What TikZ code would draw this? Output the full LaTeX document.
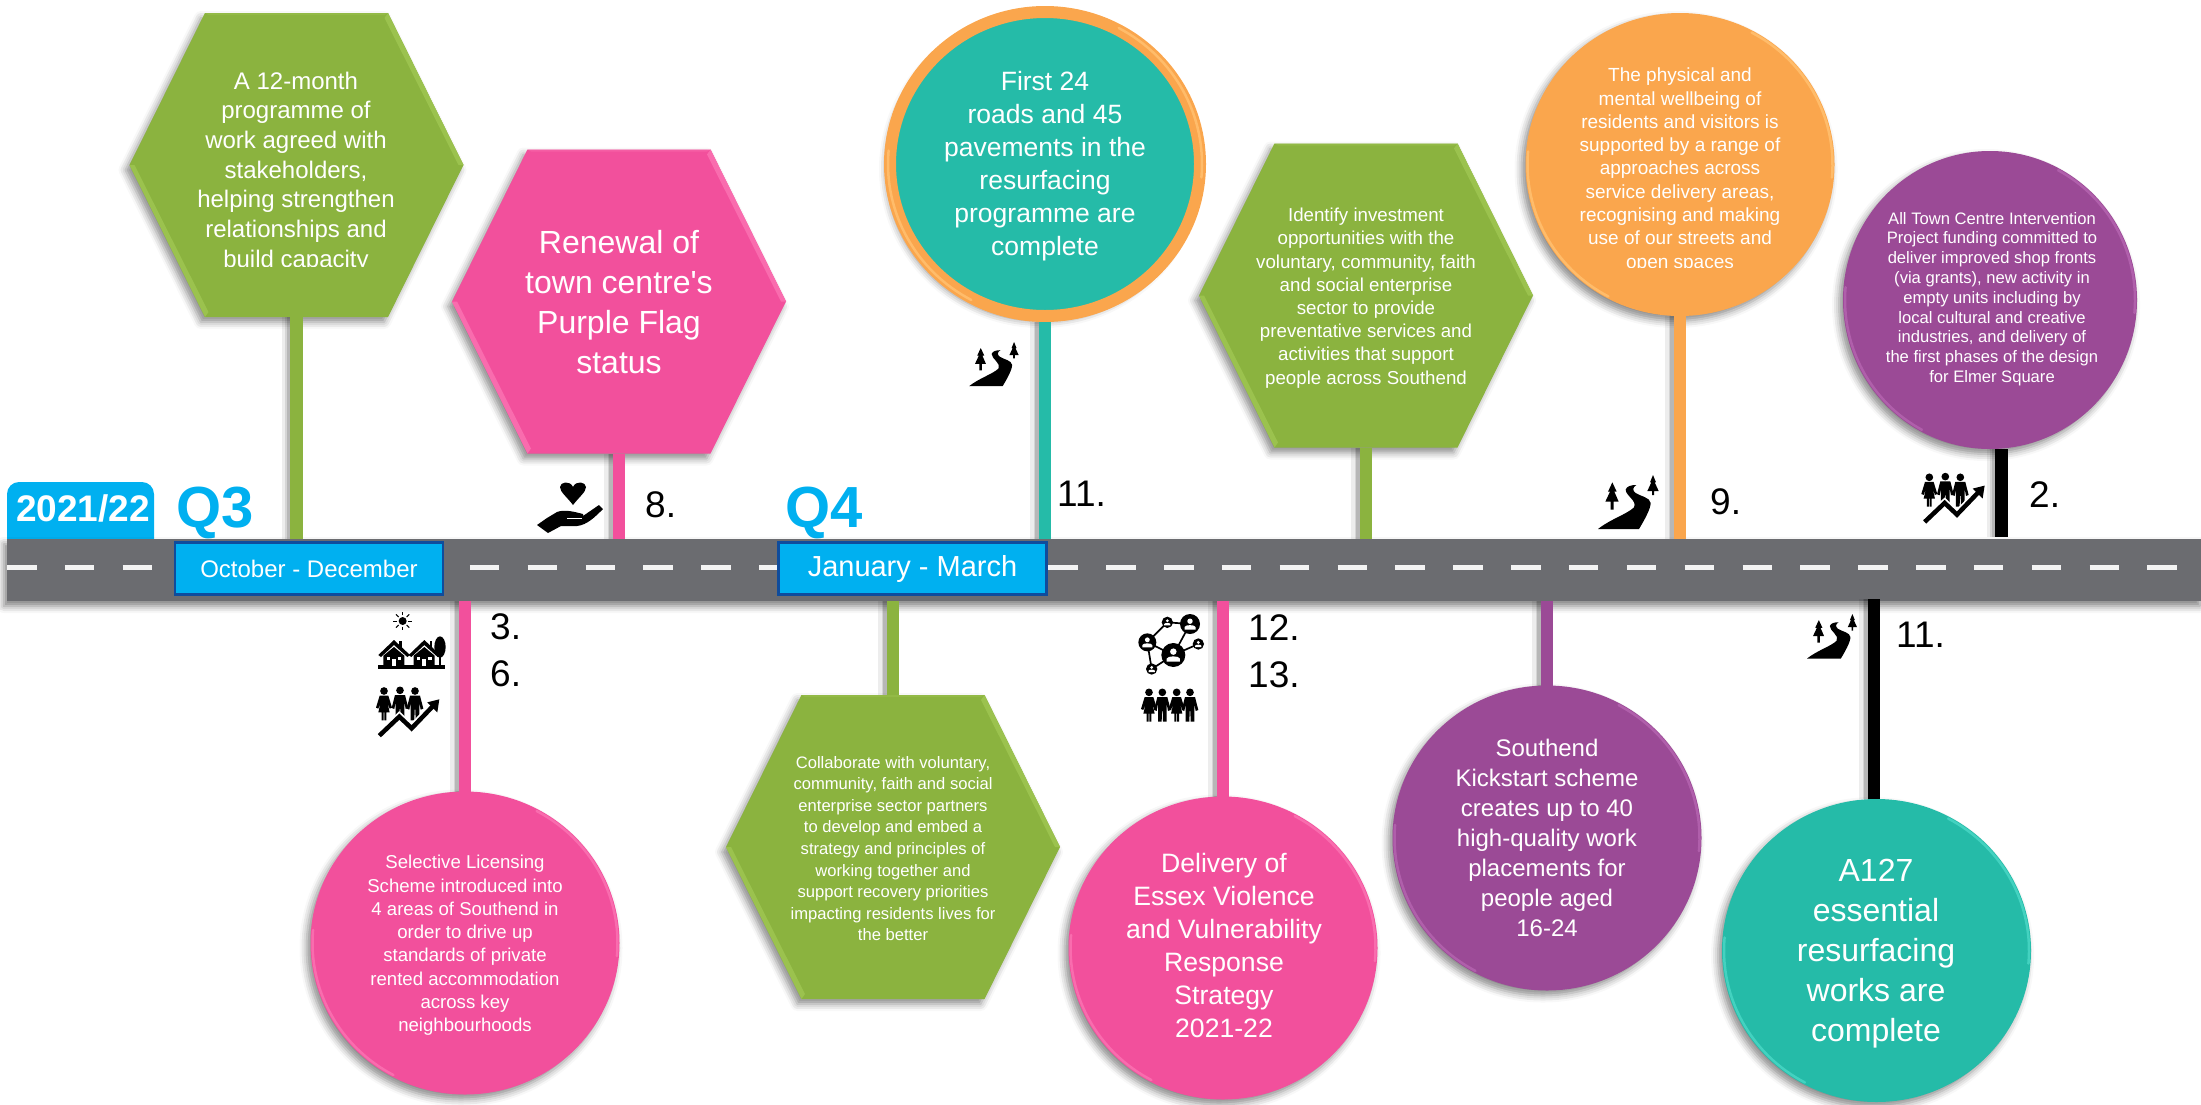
\documentclass[tikz,border=0pt]{standalone}
\usepackage{fontspec}
\setmainfont{Liberation Sans}
\usetikzlibrary{shapes.geometric,shapes.symbols,shadows.blur,calc}
\definecolor{cgreen}{HTML}{8BB33F}
\definecolor{cgreenl}{HTML}{9BC24E}
\definecolor{cpink}{HTML}{F2509C}
\definecolor{cpinkl}{HTML}{F96CAE}
\definecolor{cteal}{HTML}{25BBA8}
\definecolor{cteall}{HTML}{43D2C0}
\definecolor{corange}{HTML}{FAA64D}
\definecolor{corangel}{HTML}{FFBC6A}
\definecolor{cpurple}{HTML}{9B4A96}
\definecolor{cpurplel}{HTML}{B05FAB}
\definecolor{croad}{HTML}{6B6C70}
\definecolor{cblue}{HTML}{00B0F0}
\definecolor{cnavy}{HTML}{0F4C9C}
\newcommand\manfig[2]{\fill (#1,#2+12) circle (11.5);
 \fill ({#1-15},{#2+26}) -- ({#1+15},{#2+26}) -- ({#1+25},{#2+65}) -- ({#1+17},{#2+68}) -- ({#1+13},{#2+46}) -- ({#1+13},{#2+100}) -- ({#1+2},{#2+100}) -- ({#1+1},{#2+68}) -- ({#1-1},{#2+68}) -- ({#1-2},{#2+100}) -- ({#1-13},{#2+100}) -- ({#1-13},{#2+46}) -- ({#1-17},{#2+68}) -- ({#1-25},{#2+65}) -- cycle;}
\newcommand\womanfig[2]{\fill (#1,#2+12) circle (11.5);
 \fill ({#1-13},{#2+26}) -- ({#1+13},{#2+26}) -- ({#1+24},{#2+62}) -- ({#1+17},{#2+65}) -- ({#1+10},{#2+46}) -- ({#1+17},{#2+76}) -- ({#1+7},{#2+76}) -- ({#1+7},{#2+100}) -- ({#1+1},{#2+100}) -- ({#1+1},{#2+76}) -- ({#1-1},{#2+76}) -- ({#1-1},{#2+100}) -- ({#1-7},{#2+100}) -- ({#1-7},{#2+76}) -- ({#1-17},{#2+76}) -- ({#1-10},{#2+46}) -- ({#1-17},{#2+65}) -- ({#1-24},{#2+62}) -- cycle;}
\newcommand\netnode[3]{\fill (#1,#2) circle (#3);
 \fill[white] (#1,{#2-.28*#3}) circle ({.27*#3});
 \fill[white] ({#1-.55*#3},{#2+.55*#3}) -- ({#1-.55*#3},{#2+.3*#3}) .. controls ({#1-.5*#3},{#2+.05*#3}) and ({#1+.5*#3},{#2+.05*#3}) .. ({#1+.55*#3},{#2+.3*#3}) -- ({#1+.55*#3},{#2+.55*#3}) -- cycle;}
\newcommand\hexrim[3]{\fill[#3] (#1+91.5,#2-152) -- (#1+167,#2) -- (#1+162,#2) -- (#1+88,#2-147) -- cycle;
 \fill[#3] (#1-167,#2) -- (#1-91.5,#2+152) -- (#1-88,#2+147) -- (#1-162,#2) -- cycle;
 \fill[#3,opacity=.5] (#1-91.5,#2-152) -- (#1+91.5,#2-152) -- (#1+88,#2-150) -- (#1-88,#2-150) -- cycle;}
\newcommand\cirrim[5]{\draw[#5,line width=2.5,line cap=round] ($(#1,#2)+(-62:#3-2 and #4-2)$) arc[start angle=-62,end angle=5,x radius=#3-2,y radius=#4-2];
 \draw[#5,line width=2.5,line cap=round] ($(#1,#2)+(118:#3-2 and #4-2)$) arc[start angle=118,end angle=185,x radius=#3-2,y radius=#4-2];}
\tikzset{
 x=1pt,y=-1pt,
 softshadow/.style={blur shadow={shadow xshift=-4pt,shadow yshift=-5pt,shadow blur radius=7pt,shadow opacity=45}},
 hexshape/.style={signal,signal to=east and west,signal pointer angle=127.2,minimum width=334pt,minimum height=304pt,inner sep=0pt,outer sep=0pt,draw=none,fill=#1,softshadow},
 discshape/.style={ellipse,inner sep=0pt,outer sep=0pt,minimum width=309pt,minimum height=303pt,fill=#1,softshadow},
 bodytext/.style 2 args={text=white,align=center,inner sep=0pt,font=\fontsize{#1}{#2}\selectfont},
 numlabel/.style={text=black,inner sep=0pt,anchor=west,font=\fontsize{37}{37}\selectfont},
 stemline/.style={draw=#1,line width=12.5pt,
   preaction={draw=black,draw opacity=.07,line width=20pt,transform canvas={xshift=-5pt}},
   preaction={draw=black,draw opacity=.10,line width=15pt,transform canvas={xshift=-4pt}},
   preaction={draw=black,draw opacity=.14,line width=10pt,transform canvas={xshift=-5pt}}},
 monthbox/.style={fill=cblue,draw=cnavy,line width=2.5pt,inner sep=0pt,minimum width=268pt,minimum height=52pt,text=white},
 roadicon/.pic={\begin{scope}[shift={(-22,-28)}]
   \fill (22,190) .. controls (60,160) and (110,145) .. (130,125) .. controls (140,105) and (105,90) .. (105,72) .. controls (108,62) and (120,58) .. (137,58) .. controls (125,65) and (125,75) .. (135,82) .. controls (150,92) and (178,95) .. (180,112) .. controls (180,130) and (160,165) .. (145,190) -- cycle;
   \fill (65,50) -- (78,78) -- (71,78) -- (84,108) -- (69,108) -- (69,132) -- (60,132) -- (60,108) -- (44,108) -- (58,78) -- (52,78) -- cycle;
   \fill (187,28) -- (196,50) -- (192,50) -- (204,76) -- (190,76) -- (190,88) -- (184,88) -- (184,76) -- (170,76) -- (182,50) -- (178,50) -- cycle;
 \end{scope}},
 peoplearrow/.pic={
   \womanfig{42}{246}\manfig{90}{244}\manfig{135}{246}
   \draw[white,line width=8pt] (28,392) -- (88,335) -- (125,370) -- (190,302);
   \draw[black,line width=4.5pt] (28,392) -- (88,335) -- (125,370) -- (192,300);
   \fill (172,292) -- (208,283) -- (202,322) -- cycle;},
 sunhouses/.pic={
   \fill (98,48) circle (12);
   \foreach \a in {0,45,...,315}{\draw[line width=1pt] ($(98,48)+(\a:17)$) -- ($(98,48)+(\a:28)$);}
   \fill (25,180) rectangle (225,192);
   \foreach \d in {0,91}{\begin{scope}[shift={(\d,0)}]
     \fill (25,150) -- (72,105) -- (120,150) -- (112,156) -- (72,120) -- (33,156) -- cycle;
     \fill (72,126) -- (103,152) -- (103,182) -- (40,182) -- (40,152) -- cycle;
     \fill (88,108) rectangle (96,128);
     \fill[white] (50,156) rectangle (60,166);
     \fill[white] (84,156) rectangle (94,166);
     \fill[white] (65,162) rectangle (78,182);
   \end{scope}}
   \fill (210,126) ellipse [x radius=17,y radius=32];
   \fill (208,150) rectangle (213,182);},
 handheart/.pic={
   \fill (36,23) .. controls (30,15) and (23,10) .. (23,5) .. controls (23,0) and (33,-2) .. (36,5) .. controls (39,-2) and (49,0) .. (49,5) .. controls (49,10) and (42,15) .. (36,23) -- cycle;
   \fill (0,43) -- (10,36) -- (20,30) .. controls (28,27) and (38,30) .. (46,32) -- (46,34) -- (62,23) -- (66,27) .. controls (58,35) and (50,43) .. (40,44) -- (24,44) -- (11,51) -- cycle;
   \draw[white,line width=1.5pt] (30,36.5) -- (45,36.5);},
 netgraph/.pic={
   \draw[line width=1.7pt] (52,97) -- (112,37) -- (180,42) -- (130,135) -- (205,102) (52,97) -- (130,135) -- (65,177) -- (52,97);
   \netnode{52}{97}{27}\netnode{180}{42}{30}\netnode{130}{135}{36}
   \netnode{112}{37}{17}\netnode{205}{102}{17}\netnode{65}{177}{17}},
 familyrow/.pic={\womanfig{57}{235}\manfig{97}{235}\womanfig{140}{235}\manfig{180}{235}}
}
\begin{document}
\begin{tikzpicture}
\useasboundingbox (0,0) rectangle (2201,1104);
% shapes
\node[hexshape=cgreen] (hexA) at (296.5,165) {};
\node[hexshape=cpink] (hexB) at (619,301.5) {};
\node[ellipse,inner sep=0pt,outer sep=6pt,minimum width=310pt,minimum height=304pt,fill=cteal,draw=corange,line width=12pt,softshadow] (cirC) at (1045,164) {};
\node[hexshape=cgreen] (hexD) at (1366,295.5) {};
\node[discshape=corange] (cirE) at (1680,164.5) {};
\node[discshape=cpurple,minimum width=294pt,minimum height=298pt] (cirF) at (1990,300) {};
\node[discshape=cpink] (cirG) at (465,943) {};
\node[hexshape=cgreen] (hexH) at (893,847) {};
\node[discshape=cpink] (cirI) at (1223,948) {};
\node[discshape=cpurple,minimum height=305pt] (cirJ) at (1547,838) {};
\node[discshape=cteal] (cirK) at (1876.5,950.5) {};
% rims
\hexrim{296.5}{165}{cgreenl}
\hexrim{619}{301.5}{cpinkl}
\hexrim{1366}{295.5}{cgreenl}
\hexrim{893}{847}{cgreenl}
\cirrim{1045}{164}{159}{156}{corangel}
\cirrim{1680}{164.5}{154.5}{151.5}{corangel}
\cirrim{1990}{300}{147}{149}{cpurplel}
\cirrim{465}{943}{154.5}{151.5}{cpinkl}
\cirrim{1223}{948}{154.5}{151.5}{cpinkl}
\cirrim{1547}{838}{154.5}{152.5}{cpurplel}
\cirrim{1876.5}{950.5}{154.5}{151.5}{cteall}
% year tab
\node[fill=cblue,rounded corners=12pt,minimum width=147pt,minimum height=80pt,inner sep=0pt] (yeartab) at (80.5,522) {};
\node[text=white,inner sep=0pt,font=\fontsize{37}{37}\selectfont\bfseries] (yeartxt) at (83,508) {2021/22};
\node[text=cblue,inner sep=0pt,font=\fontsize{58}{58}\selectfont\bfseries] (qthree) at (215,513) {Q3};
\node[text=cblue,inner sep=0pt,font=\fontsize{58}{58}\selectfont\bfseries] (qfour) at (824,513) {Q4};
% road
\node[fill=croad,inner sep=0pt,minimum width=2196pt,minimum height=62pt,blur shadow={shadow xshift=-3pt,shadow yshift=-5pt,shadow blur radius=7pt,shadow opacity=50}] (road) at (2203,570) [anchor=east] {};
\coordinate (dashL) at (7,567);
\coordinate (dashR) at (2181,567);
\draw[white,draw opacity=.92,line width=5pt,dash pattern=on 29.5pt off 28.35pt] (dashL) -- (dashR);
% connectors
\coordinate (stemTwoTop) at (2001.5,449);
\coordinate (stemTwoEnd) at (2001.5,537);
\coordinate (stemLowTop) at (1874,599);
\draw[stemline=cgreen] (hexA.south) -- (hexA.south |- road.north);
\draw[stemline=cpink] (hexB.south) -- (hexB.south |- road.north);
\draw[stemline=cteal] (cirC.south) -- (cirC.south |- road.north);
\draw[stemline=cgreen] (hexD.south) -- (hexD.south |- road.north);
\draw[stemline=corange] (cirE.south) -- (cirE.south |- road.north);
\draw[stemline=black] (stemTwoTop) -- (stemTwoEnd);
\draw[stemline=cpink] (cirG.north) -- (cirG.north |- road.south);
\draw[stemline=cgreen] (hexH.north) -- (hexH.north |- road.south);
\draw[stemline=cpink] (cirI.north) -- (cirI.north |- road.south);
\draw[stemline=cpurple] (cirJ.north) -- (cirJ.north |- road.south);
\draw[stemline=black] (cirK.north -| stemLowTop) -- (stemLowTop);
% month boxes
\node[monthbox,font=\fontsize{24}{24}\selectfont] (octdec) at (309,568.5) {October - December};
\node[monthbox,font=\fontsize{29}{29}\selectfont] (janmar) at (912.5,568.5) {January - March};
% body text
\begin{scope}
\clip (130,13) rectangle (463,266);
\node[bodytext={24}{29.7}] (txtA) at (296,172) {A 12-month\\programme of\\work agreed with\\stakeholders,\\helping strengthen\\relationships and\\build capacity};
\end{scope}
\node[bodytext={32}{40}] (txtB) at (619,302) {Renewal of\\town centre{\fontspec{Liberation Sans}'}s\\Purple Flag\\status};
\node[bodytext={26.5}{33}] (txtC) at (1045,166.5) {First 24\\roads and 45\\pavements in the\\resurfacing\\programme are\\complete};
\node[bodytext={18.7}{23.2}] (txtD) at (1366,298) {Identify investment\\opportunities with the\\voluntary, community, faith\\and social enterprise\\sector to provide\\preventative services and\\activities that support\\people across Southend};
\begin{scope}
\clip (1525,13) rectangle (1835,267);
\node[bodytext={19}{23.3}] (txtE) at (1680,170) {The physical and\\mental wellbeing of\\residents and visitors is\\supported by a range of\\approaches across\\service delivery areas,\\recognising and making\\use of our streets and\\open spaces};
\end{scope}
\node[bodytext={16.6}{19.8}] (txtF) at (1992,299) {All Town Centre Intervention\\Project funding committed to\\deliver improved shop fronts\\(via grants), new activity in\\empty units including by\\local cultural and creative\\industries, and delivery of\\the first phases of the design\\for Elmer Square};
\node[bodytext={18.6}{23.3}] (txtG) at (465,945.5) {Selective Licensing\\Scheme introduced into\\4 areas of Southend in\\order to drive up\\standards of private\\rented accommodation\\across key\\neighbourhoods};
\node[bodytext={16.6}{21.6}] (txtH) at (893,848.5) {Collaborate with voluntary,\\community, faith and social\\enterprise sector partners\\to develop and embed a\\strategy and principles of\\working together and\\support recovery priorities\\impacting residents lives for\\the better};
\node[bodytext={26.6}{33}] (txtI) at (1224,945) {Delivery of\\Essex Violence\\and Vulnerability\\Response\\Strategy\\2021-22};
\node[bodytext={24}{30}] (txtJ) at (1547,837.5) {Southend\\Kickstart scheme\\creates up to 40\\high-quality work\\placements for\\people aged\\16-24};
\node[bodytext={32}{40}] (txtK) at (1876,954) {A127\\essential\\resurfacing\\works are\\complete};
% number labels
\node[numlabel] (nEight) at (645,505) {8.};
\node[numlabel] (nElevenA) at (1057,494) {11.};
\node[numlabel] (nNine) at (1710,502) {9.};
\node[numlabel] (nTwo) at (2029,495) {2.};
\node[numlabel] (nThree) at (490,627) {3.};
\node[numlabel] (nSix) at (490,674) {6.};
\node[numlabel] (nTwelve) at (1248,628) {12.};
\node[numlabel] (nThirteen) at (1248,675) {13.};
\node[numlabel] (nElevenB) at (1896,635) {11.};
% icons
\pic[scale=.3333] at (1598,475) {roadicon};
\pic[scale=.273] at (969,342) {roadicon};
\pic[scale=.275] at (1807,614) {roadicon};
\pic[scale=.3333] at (370,605) {peoplearrow};
\pic[scale=.3333] at (1915.3,391.3) {peoplearrow};
\pic[scale=.3333] at (370,605) {sunhouses};
\pic at (537,482) {handheart};
\pic[scale=.3333] at (1130,610) {netgraph};
\pic[scale=.3333] at (1130,610) {familyrow};
\end{tikzpicture}
\end{document}
